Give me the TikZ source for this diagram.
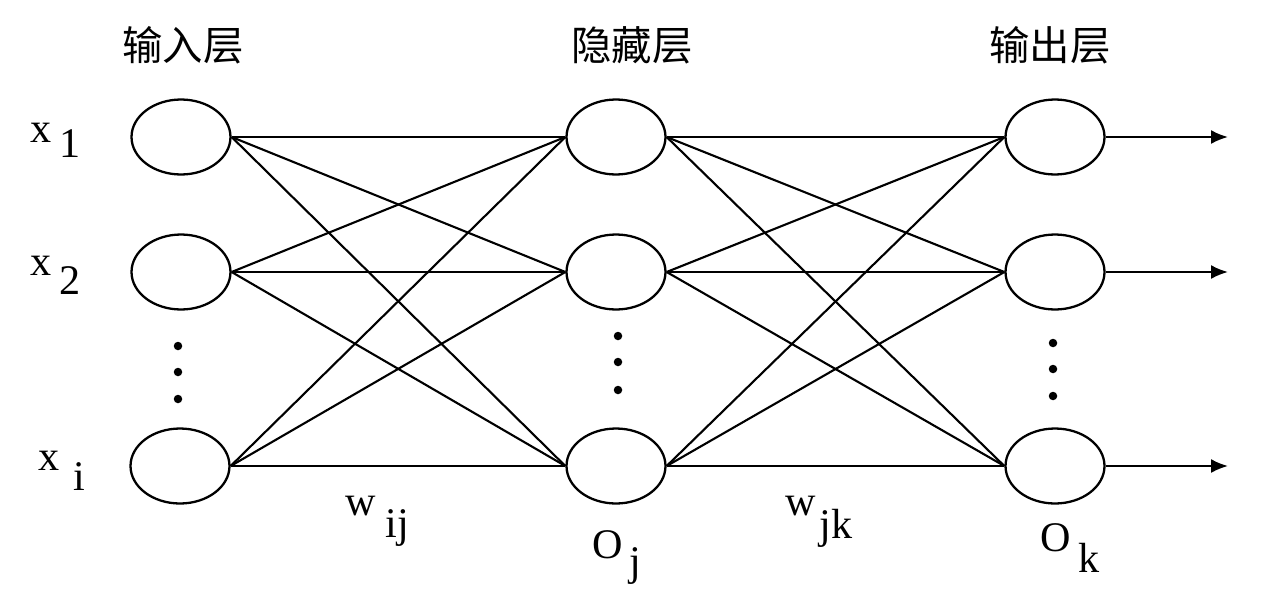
\documentclass[tikz,border=0pt]{standalone}
\usepackage{fontspec}
\setmainfont{Liberation Serif}
\newfontfamily\cjk{Noto Sans CJK SC}
\usetikzlibrary{positioning,shapes.geometric,arrows.meta}
\tikzset{
  >={Latex[length=3.4mm,width=2.8mm]},
  % --- nodes
  neuron/.style = {ellipse, draw, line width=1.3pt, minimum width=1.98cm,
                   minimum height=1.5cm, inner sep=0pt},
  ttl/.style    = {font=\cjk\fontsize{23}{26}\selectfont, inner sep=0pt},
  sym/.style    = {font=\fontsize{24}{26}\selectfont, anchor=base west, inner sep=0pt},
  dot/.style    = {circle, fill, inner sep=0pt, minimum size=0.17cm},
  % --- edges
  e/.style      = {line width=1.2pt},
  eo/.style     = {e, ->},
}
\begin{document}
\begin{tikzpicture}[x=0.02cm,y=-0.02cm]
  \useasboundingbox (0,0) rectangle (1280,612);
  % layer titles
  \node[ttl] (tin)  at (183,45)  {输入层};
  \node[ttl] (thid) at (632,45)  {隐藏层};
  \node[ttl] (tout) at (1050,45) {输出层};
  % neurons
  \node[neuron] (in1)  at (181,137) {};
  \node[neuron] (in2)  at (181,272) {};
  \node[neuron] (in3)  at (180,466) {};
  \node[neuron] (hid1) at (616,137) {};
  \node[neuron] (hid2) at (616,272) {};
  \node[neuron] (hid3) at (616,466) {};
  \node[neuron] (out1) at (1055,137) {};
  \node[neuron] (out2) at (1055,272) {};
  \node[neuron] (out3) at (1055,466) {};
  % ellipsis dots
  \node[dot] (din1) at (178,346) {}; \node[dot] (din2) at (178,372) {}; \node[dot] (din3) at (178,399) {};
  \node[dot] (dhid1) at (618,336) {}; \node[dot] (dhid2) at (618,362) {}; \node[dot] (dhid3) at (618,390) {};
  \node[dot] (dout1) at (1053,343) {}; \node[dot] (dout2) at (1053,369) {}; \node[dot] (dout3) at (1053,396) {};
  % input -> hidden
  \draw[e] (in1.east)--(hid1.west); \draw[e] (in1.east)--(hid2.west); \draw[e] (in1.east)--(hid3.west);
  \draw[e] (in2.east)--(hid1.west); \draw[e] (in2.east)--(hid2.west); \draw[e] (in2.east)--(hid3.west);
  \draw[e] (in3.east)--(hid1.west); \draw[e] (in3.east)--(hid2.west); \draw[e] (in3.east)--(hid3.west);
  % hidden -> output
  \draw[e] (hid1.east)--(out1.west); \draw[e] (hid1.east)--(out2.west); \draw[e] (hid1.east)--(out3.west);
  \draw[e] (hid2.east)--(out1.west); \draw[e] (hid2.east)--(out2.west); \draw[e] (hid2.east)--(out3.west);
  \draw[e] (hid3.east)--(out1.west); \draw[e] (hid3.east)--(out2.west); \draw[e] (hid3.east)--(out3.west);
  % outputs
  \coordinate (y1) at (1228,137); \coordinate (y2) at (1228,272); \coordinate (y3) at (1228,466);
  \draw[eo] (out1.east)--(y1); \draw[eo] (out2.east)--(y2); \draw[eo] (out3.east)--(y3);
  % symbols
  \node[sym] (lx1) at (30,142)  {x\hspace{0.16cm}\raisebox{-0.32cm}{1}};
  \node[sym] (lx2) at (30,275)  {x\hspace{0.16cm}\raisebox{-0.40cm}{2}};
  \node[sym] (lxi) at (38,470)  {x\hspace{0.28cm}\raisebox{-0.40cm}{i}};
  \node[sym] (lwij) at (345,515) {w\hspace{0.2cm}\raisebox{-0.44cm}{ij}};
  \node[sym] (loj) at (592,558) {O\hspace{0.14cm}\raisebox{-0.34cm}{j}};
  \node[sym] (lwjk) at (785,515) {w\hspace{0.08cm}\raisebox{-0.46cm}{jk}};
  \node[sym] (lok) at (1040,551) {O\hspace{0.16cm}\raisebox{-0.42cm}{k}};
\end{tikzpicture}
\end{document}
